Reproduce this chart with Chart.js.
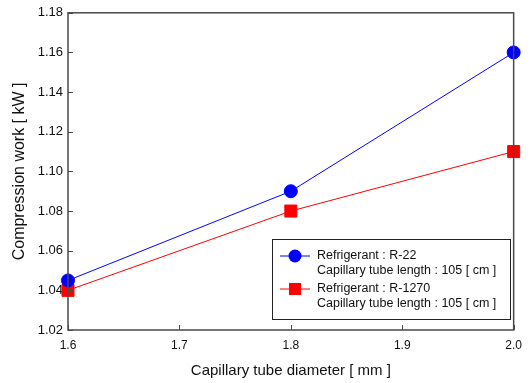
<!DOCTYPE html>
<html lang="en">
<head>
    <meta charset="UTF-8">
    <title>Compression work</title>
    <script src="https://cdn.jsdelivr.net/npm/chart.js"></script>
    <style>
        body {
            margin: 0;
            background: #ffffff;
        }
        .chart-box {
            width: 530px;
            height: 383px;
        }
    </style>
</head>
<body>
<div class="chart-box">
    <canvas id="workChart" width="530" height="383"></canvas>
</div>

<script>
    const diameters = [1.6, 1.8, 2.0];
    const workR22 = [1.045, 1.09, 1.16];
    const workR1270 = [1.04, 1.08, 1.11];
    const seriesNames = ['Refrigerant : R-22', 'Refrigerant : R-1270'];
    const seriesNotes = ['Capillary tube length : 105 [ cm ]', 'Capillary tube length : 105 [ cm ]'];
    const xTicks = [1.6, 1.7, 1.8, 1.9, 2.0];
    const yTicks = [1.02, 1.04, 1.06, 1.08, 1.10, 1.12, 1.14, 1.16, 1.18];

    const axisColor = '#4a4a4a';
    const font = "'Liberation Sans', Arial, sans-serif";

    // frame, inward ticks and the boxed legend
    const framePlugin = {
        id: 'frame',
        afterDraw(chart) {
            const ctx = chart.ctx;
            const a = chart.chartArea;
            const xs = chart.scales.x;
            const ys = chart.scales.y;
            ctx.save();
            ctx.strokeStyle = axisColor;
            ctx.lineWidth = 1.5;
            ctx.strokeRect(a.left, a.top, a.right - a.left, a.bottom - a.top);
            ctx.lineWidth = 1;
            xTicks.forEach(v => {
                const px = Math.round(xs.getPixelForValue(v)) + 0.5;
                ctx.beginPath();
                ctx.moveTo(px, a.bottom);
                ctx.lineTo(px, a.bottom - 5);
                ctx.stroke();
            });
            yTicks.forEach(v => {
                const py = Math.round(ys.getPixelForValue(v)) + 0.5;
                ctx.beginPath();
                ctx.moveTo(a.left, py);
                ctx.lineTo(a.left + 5, py);
                ctx.stroke();
            });

            // legend box
            const lx = 272, ly = 239, lw = 238, lh = 80;
            ctx.fillStyle = '#ffffff';
            ctx.fillRect(lx, ly, lw, lh);
            ctx.strokeStyle = '#222222';
            ctx.lineWidth = 1;
            ctx.strokeRect(lx + 0.5, ly + 0.5, lw, lh);
            chart.data.datasets.forEach((ds, i) => {
                const rowY = ly + 17 + i * 33;
                ctx.strokeStyle = ds.borderColor;
                ctx.lineWidth = 1;
                ctx.beginPath();
                ctx.moveTo(lx + 8, rowY);
                ctx.lineTo(lx + 38, rowY);
                ctx.stroke();
                ctx.fillStyle = ds.backgroundColor;
                if (ds.pointStyle === 'rect') {
                    ctx.fillRect(lx + 17, rowY - 6, 12, 12);
                } else {
                    ctx.beginPath();
                    ctx.arc(lx + 23, rowY, 6.5, 0, Math.PI * 2);
                    ctx.fill();
                }
                ctx.fillStyle = '#111111';
                ctx.font = '12.5px ' + font;
                ctx.textBaseline = 'middle';
                ctx.textAlign = 'left';
                ctx.fillText(seriesNames[i], lx + 45, rowY);
                ctx.fillText(seriesNotes[i], lx + 45, rowY + 14.5);
            });
            ctx.restore();
        }
    };

    new Chart(document.getElementById('workChart'), {
        type: 'line',
        data: {
            datasets: [{
                label: seriesNames[0],
                data: diameters.map((d, i) => ({ x: d, y: workR22[i] })),
                borderColor: '#0000ff',
                backgroundColor: '#0000ff',
                borderWidth: 1,
                pointStyle: 'circle',
                pointRadius: 6.5,
                pointHoverRadius: 6.5,
                clip: false
            }, {
                label: seriesNames[1],
                data: diameters.map((d, i) => ({ x: d, y: workR1270[i] })),
                borderColor: '#ff0000',
                backgroundColor: '#ff0000',
                borderWidth: 1,
                pointStyle: 'rect',
                pointRadius: 8.5,
                pointHoverRadius: 8.5,
                clip: false
            }]
        },
        options: {
            responsive: false,
            animation: false,
            layout: {
                padding: { top: 10, right: 15, left: 0, bottom: 0 }
            },
            plugins: {
                legend: { display: false },
                tooltip: { enabled: false }
            },
            scales: {
                x: {
                    type: 'linear',
                    min: 1.6,
                    max: 2.0,
                    afterBuildTicks: scale => {
                        scale.ticks = xTicks.map(v => ({ value: v }));
                    },
                    afterFit: scale => { scale.height = 53; },
                    grid: { display: false, drawTicks: false },
                    border: { display: false },
                    ticks: {
                        padding: 8,
                        color: '#111111',
                        font: { family: font, size: 12 },
                        callback: v => Number(v).toFixed(1)
                    },
                    title: {
                        display: true,
                        text: 'Capillary tube diameter [ mm ]',
                        color: '#111111',
                        font: { family: font, size: 15 },
                        padding: { top: 4, bottom: 3 }
                    }
                },
                y: {
                    type: 'linear',
                    min: 1.02,
                    max: 1.18,
                    afterBuildTicks: scale => {
                        scale.ticks = yTicks.map(v => ({ value: v }));
                    },
                    afterFit: scale => { scale.width = 68; },
                    grid: { display: false, drawTicks: false },
                    border: { display: false },
                    ticks: {
                        padding: 5,
                        color: '#111111',
                        font: { family: font, size: 13 },
                        callback: v => Number(v).toFixed(2)
                    },
                    title: {
                        display: true,
                        text: 'Compression work [ kW ]',
                        color: '#111111',
                        font: { family: font, size: 16 },
                        padding: { top: 10, bottom: 0 }
                    }
                }
            }
        },
        plugins: [framePlugin]
    });
</script>
</body>
</html>
